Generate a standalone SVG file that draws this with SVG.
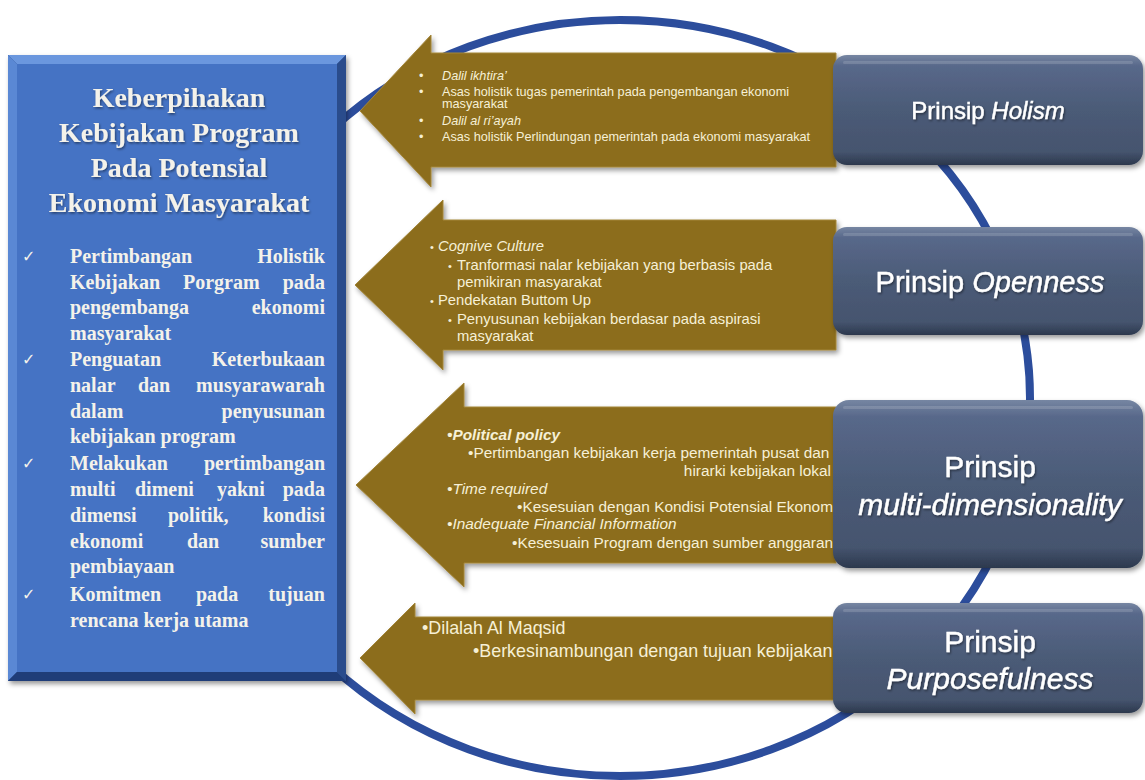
<svg xmlns="http://www.w3.org/2000/svg" width="1145" height="780" viewBox="0 0 1145 780">
<defs>
<linearGradient id="boxg" x1="0" y1="0" x2="0" y2="1">
<stop offset="0" stop-color="#7686a2"/>
<stop offset="0.1" stop-color="#58688a"/>
<stop offset="0.5" stop-color="#4b5b77"/>
<stop offset="0.88" stop-color="#45546e"/>
<stop offset="1" stop-color="#2c384d"/>
</linearGradient>
<filter id="sh" x="-10%" y="-10%" width="130%" height="130%">
<feDropShadow dx="2" dy="3" stdDeviation="2.5" flood-color="#000" flood-opacity="0.4"/>
</filter>
<filter id="tsh" x="-5%" y="-20%" width="110%" height="150%">
<feDropShadow dx="1" dy="1.5" stdDeviation="1" flood-color="#000" flood-opacity="0.45"/>
</filter>
<style>
.arrow{fill:#8c6d1e;stroke:#a3863a;stroke-width:1}
.at{font-family:"Liberation Sans",Arial,sans-serif;fill:#f6f0d6}
.lt{font-family:"Liberation Serif","Times New Roman",serif;font-weight:bold;fill:#f4f2ea}
.ttl{font-size:28px;text-anchor:middle}
.li{font-size:20px}
.e{text-anchor:end}
.ck{font-family:"DejaVu Sans",sans-serif;font-size:16px;fill:#f4f2ea}
.bt{font-family:"Liberation Sans",Arial,sans-serif;fill:#ffffff;text-anchor:middle;stroke:#ffffff;stroke-width:0.4}
.pbox{fill:url(#boxg)}
.hl{fill:#ffffff;opacity:0.14}
</style>
</defs>
<rect width="1145" height="780" fill="#ffffff"/>

<g id="ring">
<ellipse cx="620" cy="398" rx="410" ry="378" fill="none" stroke="#2c4d9c" stroke-width="8"/>
</g>

<g id="connectors">
<g id="arrow-holism">
<polygon class="arrow" filter="url(#sh)" points="360,111 431,35 431,53 836,53 836,167 431,167 431,187"/>
<g class="at" font-size="12.7">
<text x="419" y="80">•</text><text x="442" y="80" font-style="italic">Dalil ikhtira’</text>
<text x="419" y="96">•</text><text x="442" y="96">Asas holistik tugas pemerintah pada pengembangan ekonomi</text>
<text x="442" y="108">masyarakat</text>
<text x="419" y="125">•</text><text x="442" y="125" font-style="italic">Dalil al ri’ayah</text>
<text x="419" y="141">•</text><text x="442" y="141">Asas holistik Perlindungan pemerintah pada ekonomi masyarakat</text>
</g>
</g>
<g id="arrow-openness">
<polygon class="arrow" filter="url(#sh)" points="355,285 443,200 443,220 836,220 836,350 443,350 443,370"/>
<g class="at" font-size="14.8">
<text x="430" y="251" font-size="11">•</text><text x="438" y="251" font-style="italic">Cognive Culture</text>
<text x="448" y="270" font-size="11">•</text><text x="457" y="270">Tranformasi nalar kebijakan yang berbasis pada</text>
<text x="457" y="287">pemikiran masyarakat</text>
<text x="430" y="305" font-size="11">•</text><text x="438" y="305">Pendekatan Buttom Up</text>
<text x="448" y="324" font-size="11">•</text><text x="457" y="324">Penyusunan kebijakan berdasar pada aspirasi</text>
<text x="457" y="341">masyarakat</text>
</g>
</g>
<g id="arrow-multi">
<polygon class="arrow" filter="url(#sh)" points="356,485 464,383 464,407 836,407 836,563 464,563 464,587"/>
<g class="at" font-size="15.4">
<text x="447" y="440" font-weight="bold" font-style="italic">•Political policy</text>
<text x="468" y="458">•Pertimbangan kebijakan kerja pemerintah pusat dan</text>
<text x="831" y="476" text-anchor="end">hirarki kebijakan lokal</text>
<text x="447" y="494" font-style="italic">•Time required</text>
<text x="517" y="512">•Kesesuian dengan Kondisi Potensial Ekonomi</text>
<text x="447" y="529" font-style="italic">•Inadequate Financial Information</text>
<text x="512" y="548">•Kesesuain Program dengan sumber anggaran</text>
</g>
</g>
<g id="arrow-purpose">
<polygon class="arrow" filter="url(#sh)" points="360,658 415,603 415,617 836,617 836,700 415,700 415,714"/>
<g class="at" font-size="17.9">
<text x="422" y="634">•Dilalah Al Maqsid</text>
<text x="473" y="657">•Berkesinambungan dengan tujuan kebijakan</text>
</g>
</g>
</g>

<g id="left-box">
<rect x="8" y="55" width="338" height="626" fill="#2a4f93" filter="url(#sh)"/>
<polygon points="8,55 346,55 337,64 17,64" fill="#6b97de"/>
<polygon points="8,55 17,64 17,672 8,681" fill="#5a88d4"/>
<polygon points="8,681 17,672 337,672 346,681" fill="#1f3d78"/>
<polygon points="346,55 346,681 337,672 337,64" fill="#2a4c8c"/>
<rect x="17" y="64" width="320" height="608" fill="#4573c4"/>
<g class="lt" filter="url(#tsh)">
<text class="ttl" x="179" y="107">Keberpihakan</text>
<text class="ttl" x="179" y="142">Kebijakan Program</text>
<text class="ttl" x="179" y="177">Pada Potensial</text>
<text class="ttl" x="179" y="212">Ekonomi Masyarakat</text>
</g>
<g class="ck">
<text x="22" y="262">✓</text>
<text x="22" y="365">✓</text>
<text x="22" y="469">✓</text>
<text x="22" y="600">✓</text>
</g>
<g class="lt li">
<text x="70" y="263">Pertimbangan</text><text class="e" x="325" y="263">Holistik</text>
<text x="70" y="289">Kebijakan</text><text x="183" y="289">Porgram</text><text class="e" x="325" y="289">pada</text>
<text x="70" y="314">pengembanga</text><text class="e" x="325" y="314">ekonomi</text>
<text x="70" y="340">masyarakat</text>
<text x="70" y="366">Penguatan</text><text class="e" x="325" y="366">Keterbukaan</text>
<text x="70" y="392">nalar</text><text x="138" y="392">dan</text><text class="e" x="325" y="392">musyarawarah</text>
<text x="70" y="418">dalam</text><text class="e" x="325" y="418">penyusunan</text>
<text x="70" y="443">kebijakan program</text>
<text x="70" y="470">Melakukan</text><text class="e" x="325" y="470">pertimbangan</text>
<text x="70" y="496">multi</text><text x="135" y="496">dimeni</text><text x="217" y="496">yakni</text><text class="e" x="325" y="496">pada</text>
<text x="70" y="522">dimensi</text><text x="168" y="522">politik,</text><text class="e" x="325" y="522">kondisi</text>
<text x="70" y="548">ekonomi</text><text x="187" y="548">dan</text><text class="e" x="325" y="548">sumber</text>
<text x="70" y="573">pembiayaan</text>
<text x="70" y="601">Komitmen</text><text x="196" y="601">pada</text><text class="e" x="325" y="601">tujuan</text>
<text x="70" y="627">rencana kerja utama</text>
</g>
</g>

<g id="box-holism">
<rect class="pbox" filter="url(#sh)" x="833" y="55" width="310" height="110" rx="14"/>
<rect class="hl" x="843" y="61" width="290" height="3" rx="1.5"/>
<text class="bt" filter="url(#tsh)" x="988" y="119" font-size="24">Prinsip <tspan font-style="italic">Holism</tspan></text>
</g>
<g id="box-openness">
<rect class="pbox" filter="url(#sh)" x="833" y="227" width="310" height="108" rx="14"/>
<rect class="hl" x="843" y="233" width="290" height="3" rx="1.5"/>
<text class="bt" filter="url(#tsh)" x="990" y="292" font-size="29">Prinsip <tspan font-style="italic">Openness</tspan></text>
</g>
<g id="box-multi">
<rect class="pbox" filter="url(#sh)" x="833" y="400" width="310" height="168" rx="16"/>
<rect class="hl" x="843" y="406" width="290" height="3" rx="1.5"/>
<text class="bt" filter="url(#tsh)" x="990" y="477" font-size="30">Prinsip</text>
<text class="bt" filter="url(#tsh)" x="990" y="515" font-size="30" font-style="italic">multi-dimensionality</text>
</g>
<g id="box-purpose">
<rect class="pbox" filter="url(#sh)" x="833" y="603" width="310" height="110" rx="14"/>
<rect class="hl" x="843" y="609" width="290" height="3" rx="1.5"/>
<text class="bt" filter="url(#tsh)" x="990" y="652" font-size="30">Prinsip</text>
<text class="bt" filter="url(#tsh)" x="990" y="689" font-size="30" font-style="italic">Purposefulness</text>
</g>
</svg>
